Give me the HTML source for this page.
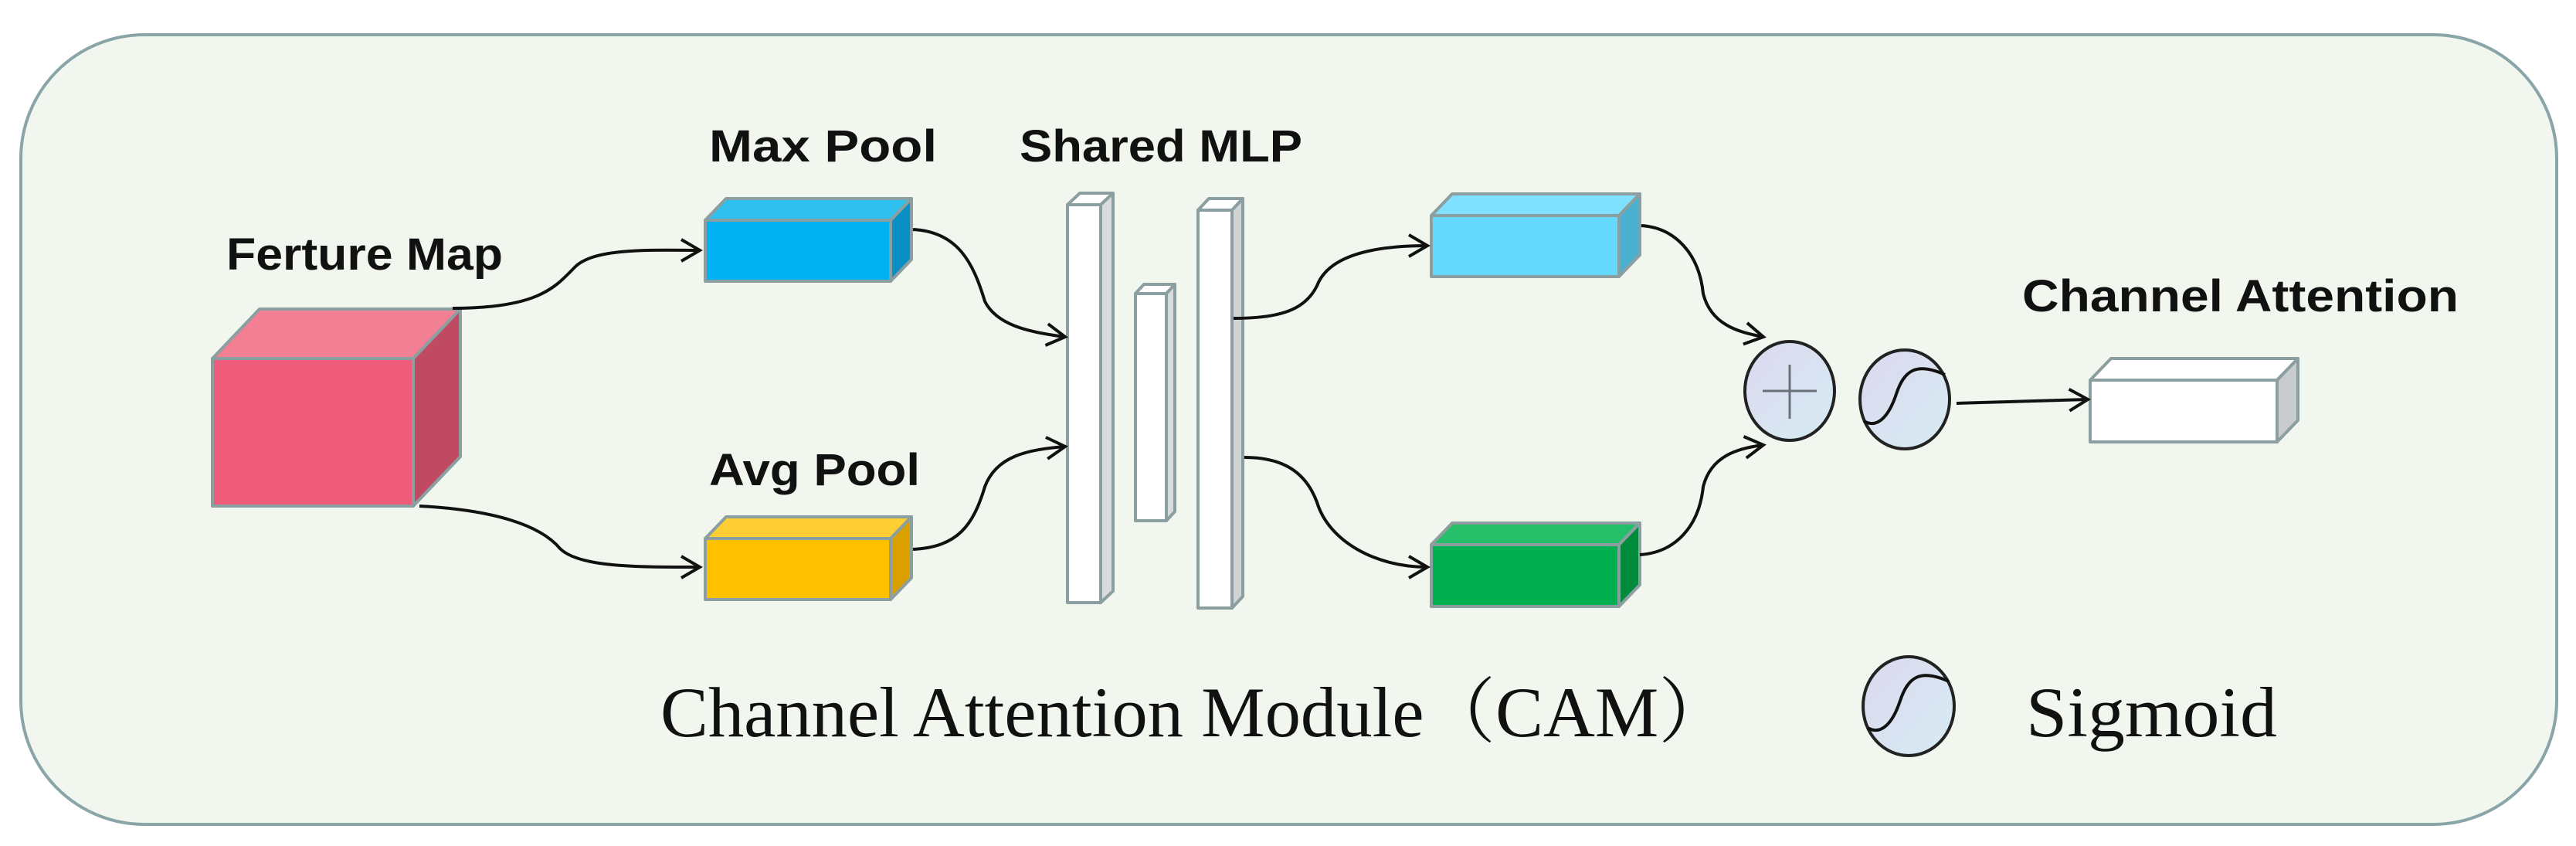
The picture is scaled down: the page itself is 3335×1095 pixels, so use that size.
<!DOCTYPE html>
<html><head><meta charset="utf-8"><style>html,body{margin:0;padding:0;background:#fff}svg{display:block}</style></head>
<body>
<svg width="3335" height="1095" viewBox="0 0 3335 1095" xmlns="http://www.w3.org/2000/svg">
<defs>
<marker id="ar" markerWidth="40" markerHeight="40" refX="30" refY="20" orient="auto" markerUnits="userSpaceOnUse">
<path d="M6,6 L30,20 L6,34" fill="none" stroke="#111" stroke-width="4"/>
</marker>
<linearGradient id="eg" x1="0" y1="0" x2="1" y2="1"><stop offset="0" stop-color="#dcd8ee"/><stop offset="1" stop-color="#d6ecf4"/></linearGradient>
</defs>
<rect x="27" y="45" width="3283" height="1022" rx="160" ry="160" fill="#f1f6ee" stroke="#8aa5a8" stroke-width="4"/>
<g stroke="#8c9fa0" stroke-width="4" stroke-linejoin="round">
<!-- pink cube -->
<polygon points="275,464 336,400 596,400 535,464" fill="#f27f94"/>
<polygon points="535,464 596,400 596,591 535,655" fill="#c04a62"/>
<rect x="275" y="464" width="260" height="191" fill="#ee5b7b"/>
<!-- max pool -->
<polygon points="913,285 940,257 1180,257 1153,285" fill="#2fc0f0"/>
<polygon points="1153,285 1180,257 1180,336 1153,364" fill="#0a8fc4"/>
<rect x="913" y="285" width="240" height="79" fill="#00b0f0"/>
<!-- avg pool -->
<polygon points="913,697 940,669 1180,669 1153,697" fill="#ffce33"/>
<polygon points="1153,697 1180,669 1180,748 1153,776" fill="#d9a000"/>
<rect x="913" y="697" width="240" height="79" fill="#ffc000"/>
<!-- bars -->
<polygon points="1382,265 1398,250 1441,250 1425,265" fill="#fff"/>
<polygon points="1425,265 1441,250 1441,765 1425,780" fill="#d8dcdc"/>
<rect x="1382" y="265" width="43" height="515" fill="#fff"/>
<polygon points="1470,380 1481,368 1521,368 1510,380" fill="#fff"/>
<polygon points="1510,380 1521,368 1521,662 1510,674" fill="#d8dcdc"/>
<rect x="1470" y="380" width="40" height="294" fill="#fff"/>
<polygon points="1551,272 1565,257 1609,257 1595,272" fill="#fff"/>
<polygon points="1595,272 1609,257 1609,772 1595,787" fill="#d0d4d4"/>
<rect x="1551" y="272" width="44" height="515" fill="#fff"/>
<!-- cyan -->
<polygon points="1853,279 1880,251 2123,251 2096,279" fill="#80e0ff"/>
<polygon points="2096,279 2123,251 2123,330 2096,358" fill="#4bb0d0"/>
<rect x="1853" y="279" width="243" height="79" fill="#66d9ff"/>
<!-- green -->
<polygon points="1853,705 1880,677 2123,677 2096,705" fill="#25bf6a"/>
<polygon points="2096,705 2123,677 2123,757 2096,785" fill="#008a3c"/>
<rect x="1853" y="705" width="243" height="80" fill="#00b050"/>
<!-- white -->
<polygon points="2706,492 2733,464 2975,464 2948,492" fill="#fff"/>
<polygon points="2948,492 2975,464 2975,544 2948,572" fill="#c8cccc"/>
<rect x="2706" y="492" width="242" height="80" fill="#fff"/>
</g>
<g fill="none" stroke="#111" stroke-width="4" marker-end="url(#ar)">
<path d="M586,399 C700,399 720,370 745,345 C770,320 850,324 906,324"/>
<path d="M543,655 C640,660 700,680 725,710 C750,735 830,734 906,734"/>
<path d="M1182,297 C1240,300 1260,340 1275,390 C1290,420 1330,430 1379,436"/>
<path d="M1182,711 C1240,708 1260,680 1275,630 C1290,590 1330,582 1379,578"/>
<path d="M1597,412 C1660,412 1690,400 1705,370 C1720,330 1780,318 1848,318"/>
<path d="M1611,592 C1660,592 1690,610 1705,650 C1720,700 1780,734 1848,734"/>
<path d="M2125,292 C2170,295 2200,330 2205,380 C2215,420 2250,430 2283,436"/>
<path d="M2123,718 C2170,715 2200,680 2205,630 C2215,590 2250,580 2283,576"/>
<path d="M2533,522 L2703,517"/>
</g>
<g stroke="#222" stroke-width="4">
<ellipse cx="2317" cy="506" rx="58" ry="64" fill="url(#eg)"/>
<ellipse cx="2466" cy="517" rx="58" ry="64" fill="url(#eg)"/>
<ellipse cx="2471" cy="914" rx="59" ry="64" fill="url(#eg)"/>
</g>
<g stroke="#6a7078" stroke-width="3"><line x1="2282" y1="506" x2="2352" y2="506"/><line x1="2317" y1="472" x2="2317" y2="542"/></g>
<g fill="none" stroke="#111" stroke-width="4">
<path d="M2413,545 C2430,555 2445,540 2455,510 C2465,480 2480,468 2518,485"/>
<path d="M2418,942 C2435,952 2450,937 2460,907 C2470,877 2485,865 2523,882"/>
</g>
<g font-family="Liberation Sans, Arial, sans-serif" font-weight="bold" fill="#111" font-size="58">
<text x="293" y="349" textLength="358" lengthAdjust="spacingAndGlyphs">Ferture Map</text>
<text x="918" y="209" textLength="295" lengthAdjust="spacingAndGlyphs">Max  Pool</text>
<text x="918" y="628" textLength="273" lengthAdjust="spacingAndGlyphs">Avg Pool</text>
<text x="1320" y="209" textLength="366" lengthAdjust="spacingAndGlyphs">Shared MLP</text>
<text x="2618" y="403" textLength="565" lengthAdjust="spacingAndGlyphs">Channel  Attention</text>
</g>
<g font-family="Liberation Serif, 'Noto Serif CJK SC', serif" fill="#111" font-size="92">
<text x="855" y="953" textLength="1385" lengthAdjust="spacingAndGlyphs">Channel Attention Module（CAM）</text>
<text x="2623" y="953" textLength="325" lengthAdjust="spacingAndGlyphs">Sigmoid</text>
</g>
</svg>
</body></html>
